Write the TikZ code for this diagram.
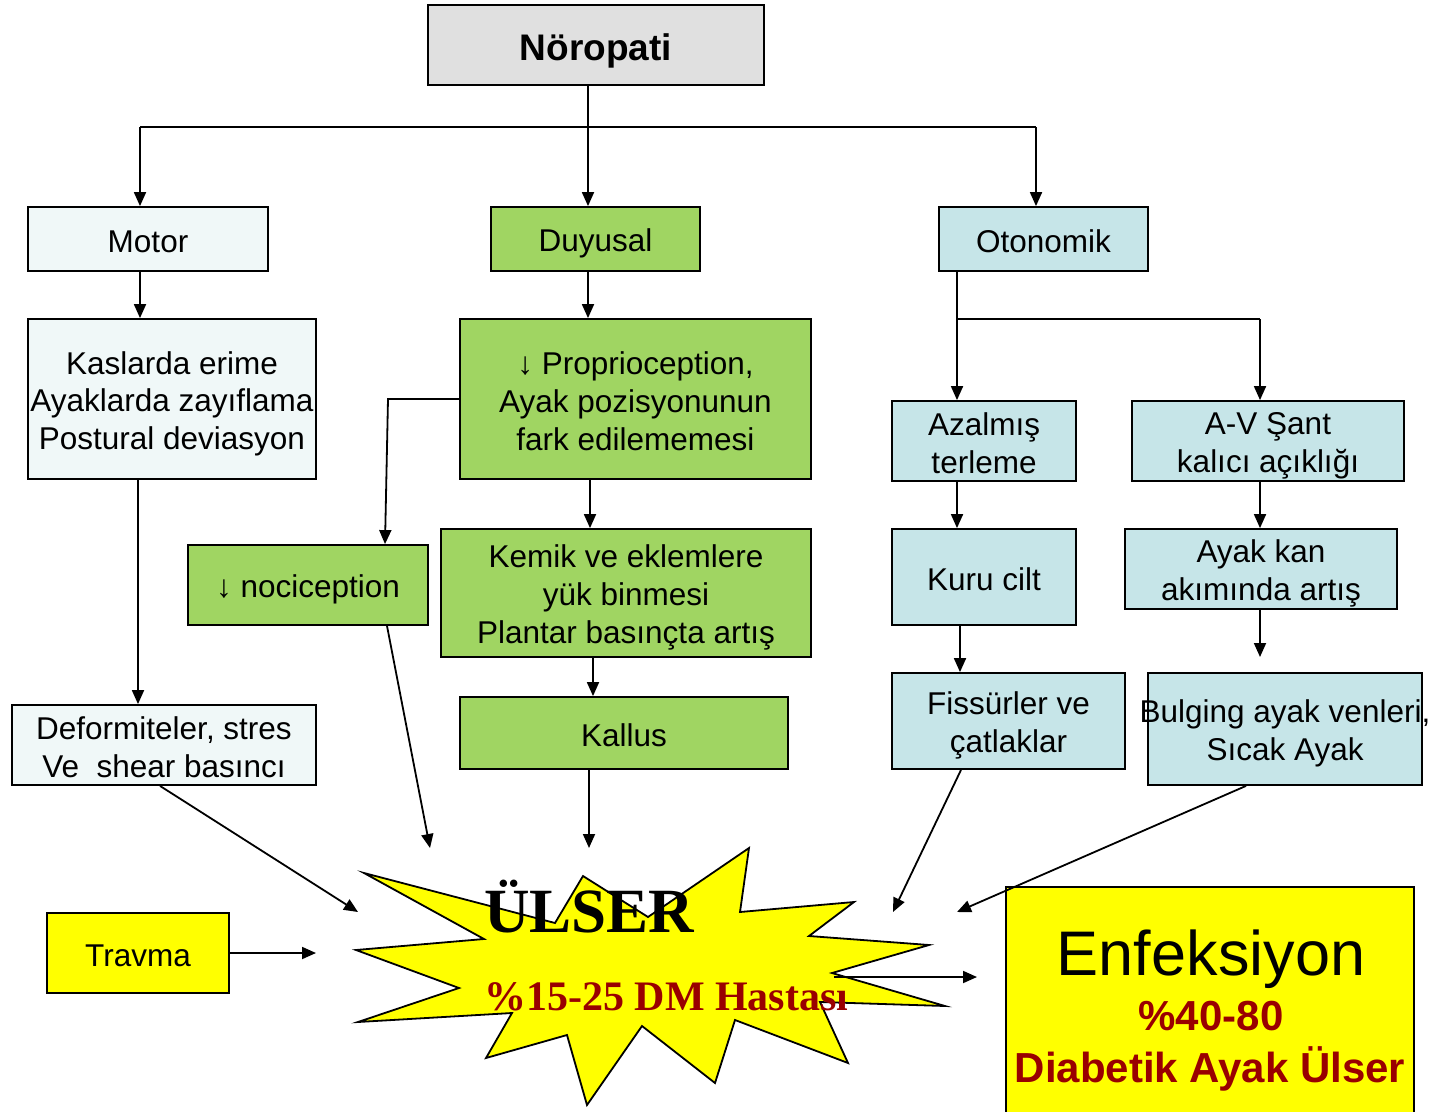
\documentclass[tikz,border=0pt]{standalone}
\usepackage{fontspec}
\setmainfont{Liberation Sans}
\newfontfamily\timesf{Liberation Serif}
\usetikzlibrary{arrows.meta}
\definecolor{boxgray}{HTML}{E0E0E0}
\definecolor{boxlight}{HTML}{F0F8F8}
\definecolor{boxgreen}{HTML}{A0D562}
\definecolor{boxblue}{HTML}{C6E5E8}
\definecolor{boxyellow}{HTML}{FFFF00}
\definecolor{darkred}{HTML}{990000}
\newcommand\lstrut{\rule[-0.18em]{0pt}{1.2em}}
\newcommand\tightlines{\lineskiplimit=-100pt\relax}
\begin{document}
\begin{tikzpicture}[x=1pt,y=-1pt,
  box/.style={draw=black, line width=1.8pt, inner sep=0pt, align=center,
    font=\fontsize{31.5}{37.8}\selectfont\tightlines},
  lightbox/.style={box, fill=boxlight},
  greenbox/.style={box, fill=boxgreen},
  bluebox/.style={box, fill=boxblue},
  yellowbox/.style={box, fill=boxyellow},
  arr/.style={line width=1.8pt, -{Triangle[length=14pt,width=12pt]}},
  ln/.style={line width=1.8pt}]
\useasboundingbox (0,0) rectangle (1431,1111);

% nodes
\node[box, fill=boxgray, minimum width=336pt, minimum height=80pt,
  font=\fontsize{37}{44}\selectfont\bfseries] (nor) at (596,45) {\lstrut Nöropati};
\node[lightbox, minimum width=240pt, minimum height=64pt] (motor) at (148,239) {\lstrut Motor};
\node[greenbox, minimum width=209pt, minimum height=64pt] (duy) at (595.5,239) {\lstrut Duyusal};
\node[bluebox, minimum width=209pt, minimum height=64pt] (oto) at (1043.5,239) {\lstrut Otonomik};

\node[lightbox, minimum width=288pt, minimum height=160pt] (kas) at (172,399)
  {\lstrut Kaslarda erime\\\lstrut Ayaklarda zayıflama\\\lstrut Postural deviasyon};
\node[greenbox, minimum width=351pt, minimum height=160pt] (prop) at (635.5,399)
  {\lstrut ↓ Proprioception,\\\lstrut Ayak pozisyonunun\\\lstrut fark edilememesi};
\node[greenbox, minimum width=240pt, minimum height=80pt] (noci) at (308,585) {\lstrut ↓ nociception};
\node[greenbox, minimum width=370pt, minimum height=128pt] (kemik) at (626,593)
  {\lstrut Kemik ve eklemlere\\\lstrut yük binmesi\\\lstrut Plantar basınçta artış};
\node[greenbox, minimum width=328pt, minimum height=72pt] (kallus) at (624,733) {\lstrut Kallus};
\node[lightbox, minimum width=304pt, minimum height=80pt] (def) at (164,745)
  {\lstrut Deformiteler, stres\\\lstrut Ve~~shear basıncı};
\node[yellowbox, minimum width=182pt, minimum height=80pt] (travma) at (138,953) {\lstrut Travma};

\node[bluebox, minimum width=184pt, minimum height=80pt] (azal) at (984,441) {\lstrut Azalmış\\\lstrut terleme};
\node[bluebox, minimum width=272pt, minimum height=80pt] (avs) at (1268,441) {\lstrut A-V Şant\\\lstrut kalıcı açıklığı};
\node[bluebox, minimum width=184pt, minimum height=96pt] (kuru) at (984,577) {\lstrut Kuru cilt};
\node[bluebox, minimum width=272pt, minimum height=80pt] (ayak) at (1261,569) {\lstrut Ayak kan\\\lstrut akımında artış};
\node[bluebox, minimum width=233pt, minimum height=96pt] (fis) at (1008.5,721) {\lstrut Fissürler ve\\\lstrut çatlaklar};
\node[bluebox, minimum width=274pt, minimum height=112pt] (bulg) at (1285,729)
  {\lstrut\makebox[0pt]{Bulging ayak venleri,}\\\lstrut Sıcak Ayak};

\node[yellowbox, minimum width=408pt, minimum height=236pt] (enf) at (1210,1005) {};
\node[anchor=base, inner sep=0pt, font=\fontsize{63}{70}\selectfont] (enft) at (1211,975) {Enfeksiyon};
\node[anchor=base, inner sep=0pt, text=darkred, font=\fontsize{42}{48}\selectfont\bfseries] (enfp) at (1211,1030) {\%40-80};
\node[anchor=base, inner sep=0pt, text=darkred, font=\fontsize{42}{48}\selectfont\bfseries] (enfd) at (1210,1082) {Diabetik Ayak Ülser};

% starburst
\draw[line width=1.8pt, fill=boxyellow, line join=miter]
  (364,873) -- (555,923) -- (583,876) -- (648,917) -- (749,848) -- (740,912)
  -- (854,902) -- (809,936) -- (929,945) -- (832,973) -- (945,1006) -- (820,1002)
  -- (848,1063) -- (735,1020) -- (715,1083) -- (642,1026) -- (587,1105)
  -- (567,1035) -- (486,1058) -- (512,1013) -- (358,1022) -- (459,988)
  -- (356,950) -- (484,939) -- cycle;
\node[anchor=base west, inner sep=0pt, font=\fontsize{63}{70}\selectfont\timesf\bfseries] (ulser) at (484,932) {ÜLSER};
\node[anchor=base west, inner sep=0pt, text=darkred, font=\fontsize{42}{48}\selectfont\timesf\bfseries] (ulserp) at (484,1010) {\%15-25 DM Hastası};

% guide coordinates
\coordinate (j0) at (588,127);
\coordinate (jl) at (140,127);
\coordinate (jr) at (1036,127);
\coordinate (v138) at (138,0);
\coordinate (v590) at (590,0);
\coordinate (v593) at (593,0);
\coordinate (v589) at (589,0);
\coordinate (v387) at (387,0);
\coordinate (v957) at (957,0);
\coordinate (v960) at (960,0);
\coordinate (v1260) at (1260,0);
\coordinate (pbend) at (388,399);
\coordinate (obr) at (957,319);
\coordinate (obr2) at (1260,319);
\coordinate (u1) at (589,848);
\coordinate (u2) at (430,848);
\coordinate (u3) at (358,912);
\coordinate (u4) at (316,953);
\coordinate (u5) at (893,912);
\coordinate (u6) at (957,912);
\coordinate (u7) at (1260,657);
\coordinate (s1) at (834,977);
\coordinate (s2) at (977,977);

% connectors
\draw[ln] (nor.south -| j0) -- (j0);
\draw[ln] (jl) -- (jr);
\draw[arr] (j0) -- (j0 |- duy.north);
\draw[arr] (jl) -- (jl |- motor.north);
\draw[arr] (jr) -- (jr |- oto.north);
\draw[arr] (jl |- motor.south) -- (jl |- kas.north);
\draw[arr] (j0 |- duy.south) -- (j0 |- prop.north);
\draw[arr] (v138 |- kas.south) -- (v138 |- def.north);
\draw[arr] (prop.west) -- (pbend) -- ([xshift=77pt]noci.north);
\draw[arr] (v590 |- prop.south) -- (v590 |- kemik.north);
\draw[arr] (v593 |- kemik.south) -- (v593 |- kallus.north);
\draw[arr] (v589 |- kallus.south) -- (u1);
\draw[arr] (v387 |- noci.south) -- (u2);
\draw[arr] ([xshift=-4pt]def.south) -- (u3);
\draw[arr] (travma.east) -- (u4);
\draw[arr] (s1) -- (s2);

\draw[arr] (v957 |- oto.south) -- (v957 |- azal.north);
\draw[ln] (obr) -- (obr2);
\draw[arr] (obr2) -- (v1260 |- avs.north);
\draw[arr] (v957 |- azal.south) -- (v957 |- kuru.north);
\draw[arr] (v960 |- kuru.south) -- (v960 |- fis.north);
\draw[arr] (v1260 |- avs.south) -- (v1260 |- ayak.north);
\draw[arr] (v1260 |- ayak.south) -- (u7);
\draw[arr] ([xshift=-47.5pt]fis.south) -- (u5);
\draw[arr] ([xshift=-39pt]bulg.south) -- (u6);
\end{tikzpicture}
\end{document}
